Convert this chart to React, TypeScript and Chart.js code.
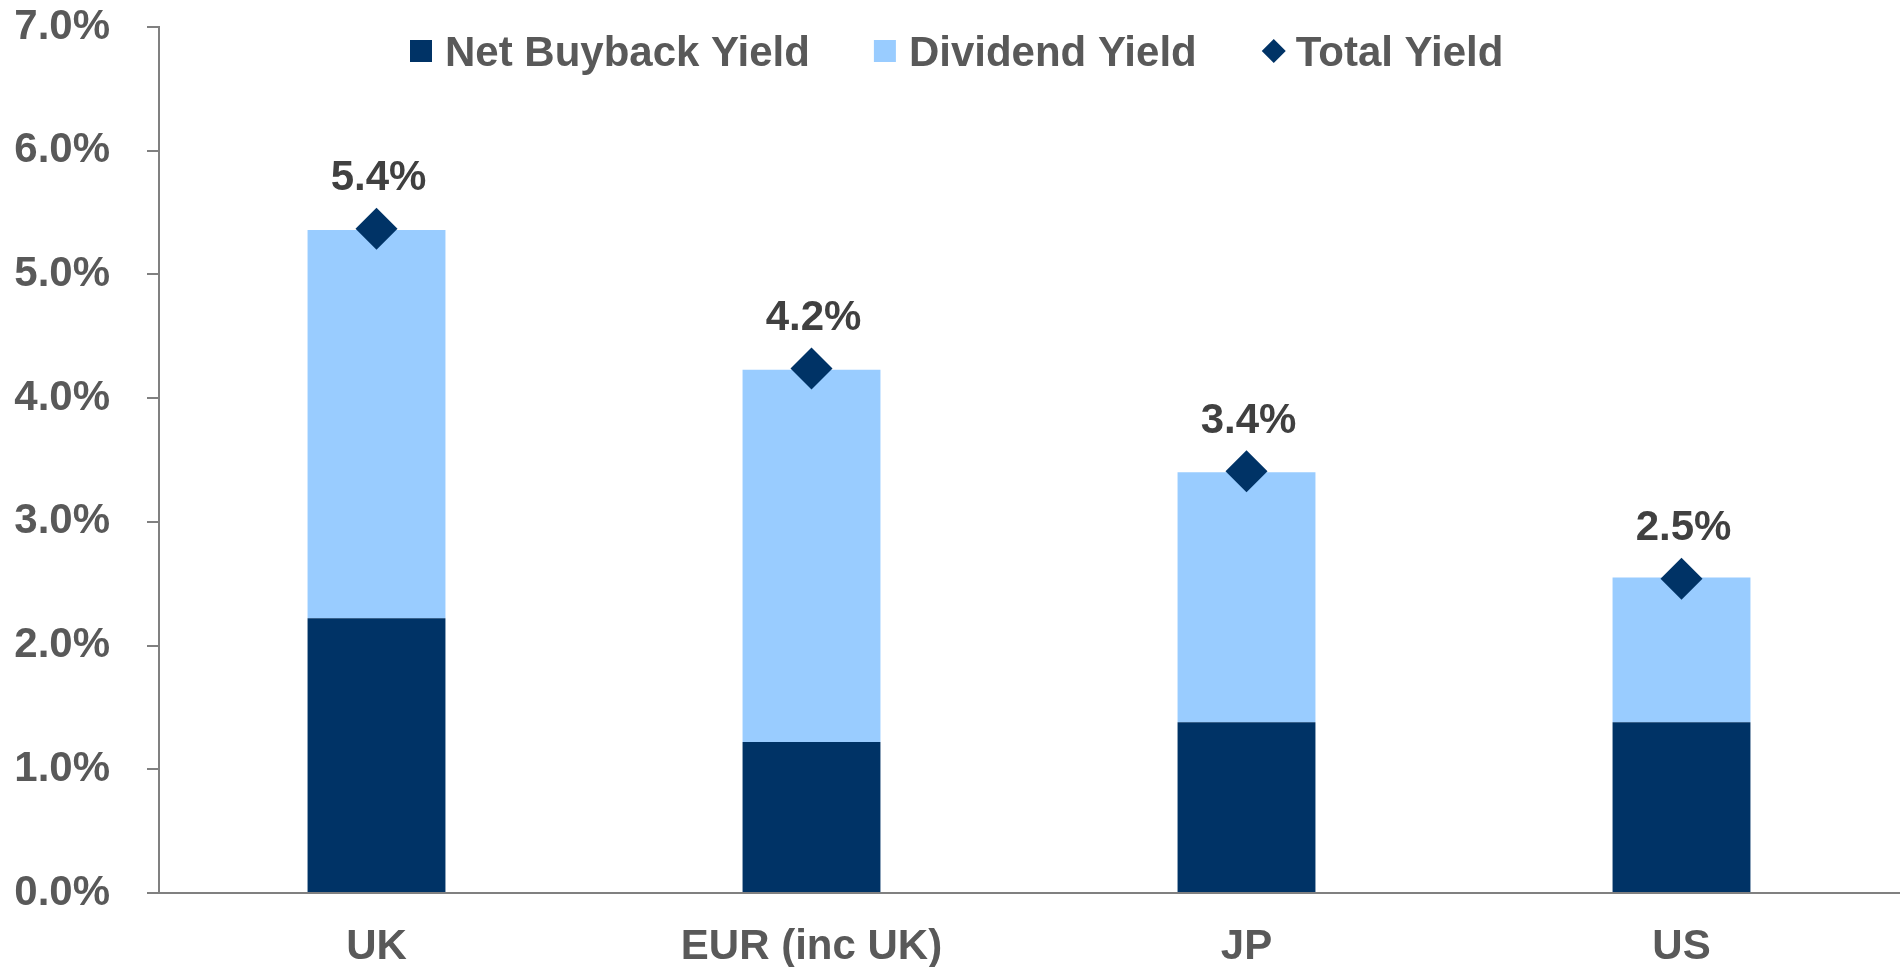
import React, { useEffect, useRef } from "react";
import { Chart, registerables } from "chart.js";

Chart.register(...registerables);

const categories = ["UK", "EUR (inc UK)", "JP", "US"];
const netBuybackYield = [2.22, 1.22, 1.38, 1.38];
const dividendYield = [3.14, 3.01, 2.02, 1.17];
const totalYield = [5.37, 4.24, 3.41, 2.54];
const yTicks = [0, 1, 2, 3, 4, 5, 6, 7];

const DARK = "#003366";
const LIGHT = "#99CCFF";
const AXIS = "#808080";
const TICK_TEXT = "#595959";
const LABEL_TEXT = "#404040";
const FONT = '"Liberation Sans", Arial, sans-serif';

const legendItems = [
  { label: "Net Buyback Yield", color: DARK, shape: "square" },
  { label: "Dividend Yield", color: LIGHT, shape: "square" },
  { label: "Total Yield", color: DARK, shape: "diamond" },
];

const customLegend = {
  id: "customLegend",
  afterDraw(chart: any) {
    const ctx = chart.ctx;
    ctx.save();
    ctx.font = `bold 42px ${FONT}`;
    ctx.textBaseline = "middle";
    ctx.textAlign = "left";
    const cy = 51;
    let x = 410;
    legendItems.forEach((it) => {
      ctx.fillStyle = it.color;
      if (it.shape === "square") {
        ctx.fillRect(x, cy - 11, 22, 22);
      } else {
        const cx = x + 13;
        ctx.beginPath();
        ctx.moveTo(cx, cy - 12);
        ctx.lineTo(cx + 12, cy);
        ctx.lineTo(cx, cy + 12);
        ctx.lineTo(cx - 12, cy);
        ctx.closePath();
        ctx.fill();
      }
      ctx.fillStyle = TICK_TEXT;
      const tx = x + 35;
      ctx.fillText(it.label, tx, cy + 3);
      const w = ctx.measureText(it.label).width;
      x = tx + w + 64;
    });
    ctx.restore();
  },
};

const totalLabels = {
  id: "totalLabels",
  afterDatasetsDraw(chart: any) {
    const meta = chart.getDatasetMeta(0);
    const ctx = chart.ctx;
    ctx.save();
    ctx.font = `bold 42px ${FONT}`;
    ctx.fillStyle = LABEL_TEXT;
    ctx.textAlign = "center";
    ctx.textBaseline = "middle";
    meta.data.forEach((pt: any, i: number) => {
      ctx.fillText(totalYield[i].toFixed(1) + "%", pt.x + 2, pt.y - 50);
    });
    ctx.restore();
  },
};

export default function App() {
  const ref = useRef<HTMLCanvasElement | null>(null);

  useEffect(() => {
    if (!ref.current) return;
    Chart.defaults.font.family = FONT;
    const chart = new Chart(ref.current, {
      type: "bar",
      data: {
        labels: categories,
        datasets: [
          {
            type: "line",
            label: "Total Yield",
            data: totalYield,
            showLine: false,
            pointStyle: "rectRot",
            pointRadius: 21,
            pointHoverRadius: 21,
            pointBackgroundColor: DARK,
            pointBorderWidth: 0,
            backgroundColor: DARK,
            borderColor: DARK,
            stack: "total",
            order: 0,
          } as any,
          {
            type: "bar",
            label: "Net Buyback Yield",
            data: netBuybackYield,
            backgroundColor: DARK,
            stack: "yield",
            order: 1,
            barPercentage: 1,
            categoryPercentage: 0.317,
          },
          {
            type: "bar",
            label: "Dividend Yield",
            data: dividendYield,
            backgroundColor: LIGHT,
            stack: "yield",
            order: 1,
            barPercentage: 1,
            categoryPercentage: 0.317,
          },
        ],
      },
      options: {
        responsive: false,
        animation: false,
        events: [],
        layout: { autoPadding: false, padding: { top: 27, right: 3, bottom: 0, left: 0 } },
        plugins: {
          legend: { display: false },
          tooltip: { enabled: false },
        },
        scales: {
          x: {
            stacked: true,
            grid: { display: false, drawTicks: false, tickLength: 0 },
            border: { display: true, color: AXIS, width: 2 },
            ticks: {
              color: TICK_TEXT,
              font: { size: 42, weight: "bold", family: FONT },
              padding: 29,
              maxRotation: 0,
              autoSkip: false,
            },
            afterFit: (s: any) => {
              s.height = 74;
              s.paddingLeft = 0;
              s.paddingRight = 0;
            },
          },
          y: {
            stacked: true,
            min: 0,
            max: 7,
            afterBuildTicks: (s: any) => {
              s.ticks = yTicks.map((v) => ({ value: v }));
            },
            grid: {
              display: true,
              drawOnChartArea: false,
              drawTicks: true,
              tickLength: 12,
              color: AXIS,
              lineWidth: 2,
            },
            border: { display: true, color: AXIS, width: 2 },
            ticks: {
              color: TICK_TEXT,
              font: { size: 42, weight: "bold", family: FONT },
              padding: 37,
              callback: (v: any) => Number(v).toFixed(1) + "%",
            },
            afterFit: (s: any) => {
              s.width = 159;
              s.paddingTop = 0;
              s.paddingBottom = 0;
            },
          },
        },
      },
      plugins: [customLegend, totalLabels],
    });
    return () => chart.destroy();
  }, []);

  return (
    <div style={{ position: "fixed", left: 0, top: 0, width: 1902, height: 967, background: "#fff" }}>
      <canvas ref={ref} width={1902} height={967} style={{ display: "block" }} />
    </div>
  );
}
